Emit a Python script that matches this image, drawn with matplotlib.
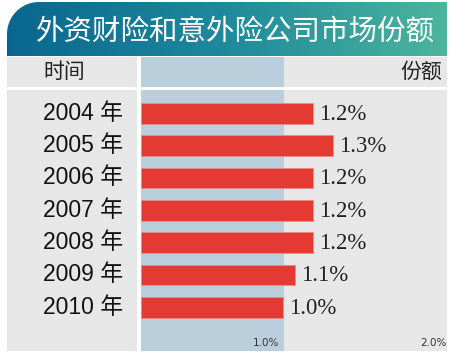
import numpy as np
import matplotlib
matplotlib.use("Agg")
import matplotlib.pyplot as plt
from matplotlib.path import Path as MPath
from matplotlib.patches import PathPatch, Rectangle
from matplotlib.colors import LinearSegmentedColormap
import matplotlib.transforms as mtransforms

# --- data ---
years = ["2004 年", "2005 年", "2006 年", "2007 年", "2008 年", "2009 年", "2010 年"]
shares = [1.2, 1.34, 1.2, 1.2, 1.2, 1.08, 0.99]
share_labels = ["1.2%", "1.3%", "1.2%", "1.2%", "1.2%", "1.1%", "1.0%"]
tick_vals = [1.0, 2.0]
tick_labels = ["1.0%", "2.0%"]
title = "外资财险和意外险公司市场份额"
left_head = "时间"
right_head = "份额"

W, H = 450, 354
fig = plt.figure(figsize=(W / 100, H / 100), dpi=100)
fig.patch.set_facecolor("white")

# background axes in pixel coordinates
bg = fig.add_axes([0, 0, 1, 1])
bg.set_xlim(0, W)
bg.set_ylim(H, 0)
bg.axis("off")

# title banner with rounded top-left corner and gradient
x0, x1, y0, y1, r = 7, 447, 2, 56, 32
theta = np.linspace(np.pi, np.pi / 2, 20)
arc = [(x0 + r + r * np.cos(t), y0 + r - r * np.sin(t)) for t in theta]
verts = [(x0, y1)] + arc + [(x1, y0), (x1, y1), (x0, y1)]
codes = [MPath.MOVETO] + [MPath.LINETO] * (len(verts) - 2) + [MPath.CLOSEPOLY]
banner = PathPatch(MPath(verts, codes), facecolor="none", edgecolor="none")
bg.add_patch(banner)
cmap = LinearSegmentedColormap.from_list("banner", ["#0a6690", "#1f8a9c", "#4cb59d"])
grad = np.linspace(0, 1, 256).reshape(1, -1)
im = bg.imshow(grad, cmap=cmap, extent=[x0, x1, y1, y0], aspect="auto", zorder=1)
im.set_clip_path(banner)
bg.set_xlim(0, W)
bg.set_ylim(H, 0)
bg.text(235, 32, title, color="white", fontsize=20.5, ha="center", va="center",
        family=["Noto Sans CJK SC"], zorder=3)

# left column panels
bg.add_patch(Rectangle((7, 57), 130, 30, facecolor="#e7e7e7", edgecolor="none"))
bg.add_patch(Rectangle((7, 90), 130, 261, facecolor="#e7e7e7", edgecolor="none"))
bg.text(64, 72, left_head, fontsize=15, ha="center", va="center",
        family=["Noto Sans CJK SC"], color="#222222")

scale_max = 2.14
band_color = "#b9cfdc"
gray = "#e7e7e7"

# header strip
hax = fig.add_axes([141 / W, 1 - 87 / H, (447 - 141) / W, 30 / H])
hax.set_xlim(0, scale_max)
hax.set_ylim(0, 1)
hax.set_facecolor(gray)
hax.axvspan(0, 1.0, color=band_color, lw=0)
hax.axis("off")
hax.add_patch(Rectangle((0, 0), 1, 1, transform=hax.transAxes, facecolor=gray, zorder=-1))
hax.text(0.985, 0.5, right_head, transform=hax.transAxes, ha="right", va="center",
         fontsize=15, family=["Noto Sans CJK SC"], color="#222222")

# main bar axes
ax = fig.add_axes([141 / W, 1 - 351 / H, (447 - 141) / W, 261 / H])
ax.set_xlim(0, scale_max)
ypos = np.arange(len(years))
ax.set_ylim(7.35, -0.72)
ax.add_patch(Rectangle((0, 0), 1, 1, transform=ax.transAxes, facecolor=gray, zorder=-2))
ax.axvspan(0, 1.0, color=band_color, lw=0, zorder=0)
ax.barh(ypos, shares, height=0.64, color="#e33a33", edgecolor="#f08a85", lw=0.6, zorder=2)
for spine in ax.spines.values():
    spine.set_visible(False)
ax.set_xticks([])
ax.set_yticks([])

off = mtransforms.offset_copy(ax.transData, fig=fig, x=6, y=-1, units="dots")
for y, v, lab in zip(ypos, shares, share_labels):
    ax.text(v, y, lab, transform=off, ha="left", va="center", fontsize=16.5,
            family="Liberation Serif", color="#222222")

# year labels: x in pixels, y in data units of the bar axes
ytrans = mtransforms.blended_transform_factory(bg.transData, ax.transData)
for y, lab in zip(ypos, years):
    bg.text(123, y, lab, ha="right", va="center", fontsize=16.5,
            family=["Liberation Sans", "Noto Sans CJK SC"], color="#111111",
            transform=ytrans)

tick_off = mtransforms.offset_copy(ax.transData, fig=fig, x=-5, y=0, units="dots")
for tv, tl in zip(tick_vals, tick_labels):
    if tv >= scale_max - 0.2:
        ax.text(0.998, 0.03, tl, transform=ax.transAxes, ha="right", va="center",
                fontsize=7.5, color="#333333")
    else:
        ax.text(tv, 7.1, tl, transform=tick_off, ha="right", va="center",
                fontsize=7.5, color="#333333")

fig.savefig("out.png", dpi=100)
